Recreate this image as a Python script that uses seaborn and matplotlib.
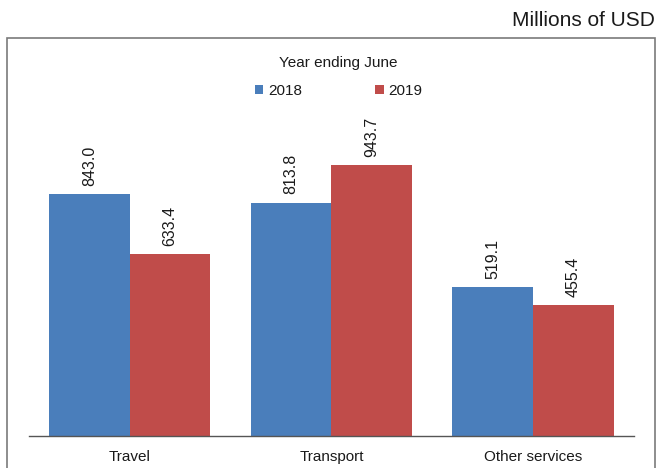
import matplotlib
matplotlib.use("Agg")
import matplotlib.pyplot as plt
from matplotlib.patches import Rectangle
import seaborn as sns
import pandas as pd

categories = ["Travel", "Transport", "Other services"]
years = ["2018", "2019"]
values_2018 = [843.0, 813.8, 519.1]
values_2019 = [633.4, 943.7, 455.4]
colors = ["#4a7ebb", "#c04c4a"]

df = pd.DataFrame({
    "category": categories * 2,
    "year": [years[0]] * 3 + [years[1]] * 3,
    "value": values_2018 + values_2019,
})

sns.set_theme(style="white")
plt.rcParams["font.family"] = ["Liberation Sans", "DejaVu Sans"]
plt.rcParams["text.color"] = "#1a1a1a"

fig = plt.figure(figsize=(6.59, 4.68), dpi=100)
ax = fig.add_axes([0.044, 0.0684, 0.918, 0.827])

sns.barplot(data=df, x="category", y="value", hue="year", order=categories,
            hue_order=years, palette=colors, width=0.8, gap=0,
            saturation=1, edgecolor="none", linewidth=0, ax=ax)

ax.set_ylim(0, 1350)
ax.set_xlim(-0.5, 2.5)
ax.set_xlabel("")
ax.set_ylabel("")
ax.set_yticks([])

for side in ["left", "right", "top"]:
    ax.spines[side].set_visible(False)
ax.spines["bottom"].set_color("#555555")
ax.spines["bottom"].set_linewidth(1.0)

ax.tick_params(axis="x", which="major", length=0, pad=10, labelsize=11,
               labelcolor="#1a1a1a")
ax.set_xticks([-0.5, 0.5, 1.5, 2.5], minor=True)
ax.tick_params(axis="x", which="minor", length=5, width=1.0, color="#555555",
               direction="out")

for container in ax.containers:
    ax.bar_label(container, fmt="%.1f", rotation=90, padding=6, fontsize=11.5,
                 color="#1a1a1a")

leg = ax.legend(title="Year ending June", loc="upper center",
                bbox_to_anchor=(0.512, 1.017), ncol=2, frameon=False,
                fontsize=11, title_fontsize=11, handlelength=0.55,
                handleheight=0.55, handletextpad=0.3, columnspacing=4.8,
                labelspacing=0.9)
leg.get_title().set_color("#1a1a1a")

# outer frame around the chart area
fig.patches.append(Rectangle((7 / 659, -0.01), 648 / 659, 1 - 38 / 468 + 0.01,
                             transform=fig.transFigure, fill=False,
                             edgecolor="#7a7a7a", linewidth=1.2))

fig.text(655 / 659, 1 - 20 / 468, "Millions of USD", ha="right", va="center",
         fontsize=15, color="#1a1a1a")

fig.savefig("out.png", dpi=100)
